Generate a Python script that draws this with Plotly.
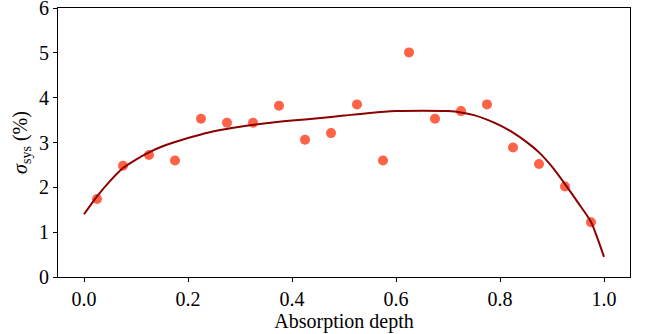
import plotly.graph_objects as go

# Scatter data (absorption depth bins)
depth = [0.025, 0.075, 0.125, 0.175, 0.225, 0.275, 0.325, 0.375, 0.425, 0.475,
         0.525, 0.575, 0.625, 0.675, 0.725, 0.775, 0.825, 0.875, 0.925, 0.975]
sigma_sys = [1.74, 2.48, 2.72, 2.60, 3.53, 3.44, 3.44, 3.82, 3.06, 3.21,
             3.85, 2.60, 5.01, 3.53, 3.70, 3.85, 2.89, 2.52, 2.02, 1.22]

# Fitted curve
fit_x = [0.0, 0.025, 0.05, 0.075, 0.1, 0.125, 0.15, 0.175, 0.2, 0.225, 0.25,
         0.3, 0.35, 0.4, 0.45, 0.5, 0.55, 0.6, 0.65, 0.7, 0.725, 0.75, 0.775,
         0.8, 0.825, 0.85, 0.875, 0.9, 0.925, 0.95, 0.975, 0.9875, 1.0]
fit_y = [1.40, 1.80, 2.14, 2.43, 2.62, 2.78, 2.91, 3.01, 3.10, 3.18, 3.25,
         3.35, 3.43, 3.49, 3.54, 3.60, 3.66, 3.70, 3.71, 3.70, 3.67, 3.61, 3.51,
         3.38, 3.22, 3.02, 2.78, 2.46, 2.07, 1.66, 1.23, 0.86, 0.45]

x_ticks = [0.0, 0.2, 0.4, 0.6, 0.8, 1.0]
x_ticklabels = ["0.0", "0.2", "0.4", "0.6", "0.8", "1.0"]
y_ticks = [0, 1, 2, 3, 4, 5, 6]
y_ticklabels = ["0", "1", "2", "3", "4", "5", "6"]

FONT = "Liberation Serif"
FS = 20

fig = go.Figure()
fig.add_trace(go.Scatter(
    x=depth, y=sigma_sys, mode="markers",
    marker=dict(color="#FF6347", size=10, line=dict(width=0)),
    showlegend=False, hoverinfo="skip", cliponaxis=False))
fig.add_trace(go.Scatter(
    x=fit_x, y=fit_y, mode="lines",
    line=dict(color="#8B0000", width=2, shape="spline", smoothing=0.7),
    showlegend=False, hoverinfo="skip"))

axis_common = dict(
    showline=True, linecolor="black", linewidth=1, mirror=True,
    ticks="outside", ticklen=4, tickwidth=1, tickcolor="black",
    showgrid=False, zeroline=False, ticklabeloverflow="allow",
    automargin=False,
    tickfont=dict(family=FONT, size=FS, color="black"),
)

fig.update_layout(
    width=646, height=334,
    margin=dict(l=58, r=16, t=8, b=57, autoexpand=False),
    paper_bgcolor="white", plot_bgcolor="white",
    font=dict(family=FONT, size=FS, color="black"),
    xaxis=dict(range=[-0.05, 1.05], tickvals=x_ticks, ticktext=x_ticklabels,
               title=dict(text="Absorption depth", standoff=0,
                          font=dict(family=FONT, size=FS)),
               **axis_common),
    yaxis=dict(range=[-0.0001, 6.0001], tickvals=y_ticks, ticktext=y_ticklabels,
               title=dict(text="<i>σ</i><sub>sys</sub> (%)", standoff=6,
                          font=dict(family=FONT, size=FS)),
               **axis_common),
)

fig.write_html("out.html")
